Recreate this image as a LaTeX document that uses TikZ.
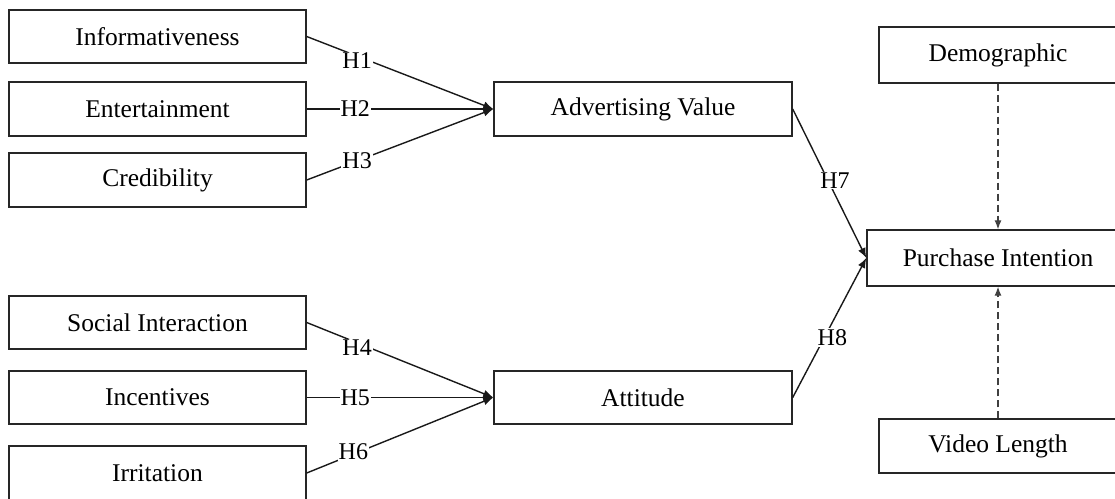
\documentclass[tikz,border=0pt]{standalone}
\usepackage{fontspec}
\setmainfont{Liberation Serif}
\usetikzlibrary{arrows.meta}
\begin{document}
\begin{tikzpicture}[x=1pt,y=-1pt,
  box/.style={draw=black!85,line width=1.4pt,inner sep=0pt,font=\fontsize{25.5}{30}\selectfont},
  conn/.style={line width=1.4pt,draw=black!90,-{Latex[length=10pt,width=8pt]}},
  dconn/.style={line width=1.2pt,draw=black!75,dash pattern=on 7pt off 4pt,-{Latex[length=9pt,width=7pt]}},
  hlab/.style={fill=white,inner sep=1pt,font=\fontsize{24}{28}\selectfont}]
\useasboundingbox (0,0) rectangle (1115,498);
\node[box,minimum width=297pt,minimum height=53pt] (inf) at (157.5,36.5) {Informativeness};
\node[box,minimum width=297pt,minimum height=54pt] (ent) at (157.5,109) {Entertainment};
\node[box,minimum width=297pt,minimum height=54pt] (cred) at (157.5,180) {Credibility};
\node[box,minimum width=297pt,minimum height=53pt] (soc) at (157.5,322.5) {Social Interaction};
\node[box,minimum width=297pt,minimum height=53pt] (inc) at (157.5,397.5) {Incentives};
\node[box,minimum width=297pt,minimum height=54pt] (irr) at (157.5,473) {Irritation};
\node[box,minimum width=298pt,minimum height=54pt] (adv) at (643,109) {Advertising Value};
\node[box,minimum width=298pt,minimum height=53pt] (att) at (643,397.5) {Attitude};
\node[box,minimum width=262pt,minimum height=56pt] (pi) at (998,258) {Purchase Intention};
\node[box,minimum width=238pt,minimum height=56pt] (dem) at (998,55) {Demographic};
\node[box,minimum width=238pt,minimum height=54pt] (vid) at (998,446) {Video Length};
\draw[conn] (inf.east) -- node[hlab,pos=0.27,yshift=-5pt] (l1) {H1} (adv.west);
\draw[conn] (ent.east) -- node[hlab,pos=0.26] (l2) {H2} (adv.west);
\draw[conn] (cred.east) -- node[hlab,pos=0.27] (l3) {H3} (adv.west);
\draw[conn] (soc.east) -- node[hlab,pos=0.27,yshift=-5pt] (l4) {H4} (att.west);
\draw[conn] (inc.east) -- node[hlab,pos=0.26] (l5) {H5} (att.west);
\draw[conn] (irr.east) -- node[hlab,pos=0.25,yshift=2pt] (l6) {H6} (att.west);
\draw[conn] (adv.east) -- node[hlab,pos=0.48,xshift=7pt] (l7) {H7} (pi.west);
\draw[conn] (att.east) -- node[hlab,pos=0.43,xshift=8pt] (l8) {H8} (pi.west);
\draw[dconn] (dem.south) -- (pi.north);
\draw[dconn] (vid.north) -- (pi.south);
\end{tikzpicture}
\end{document}
